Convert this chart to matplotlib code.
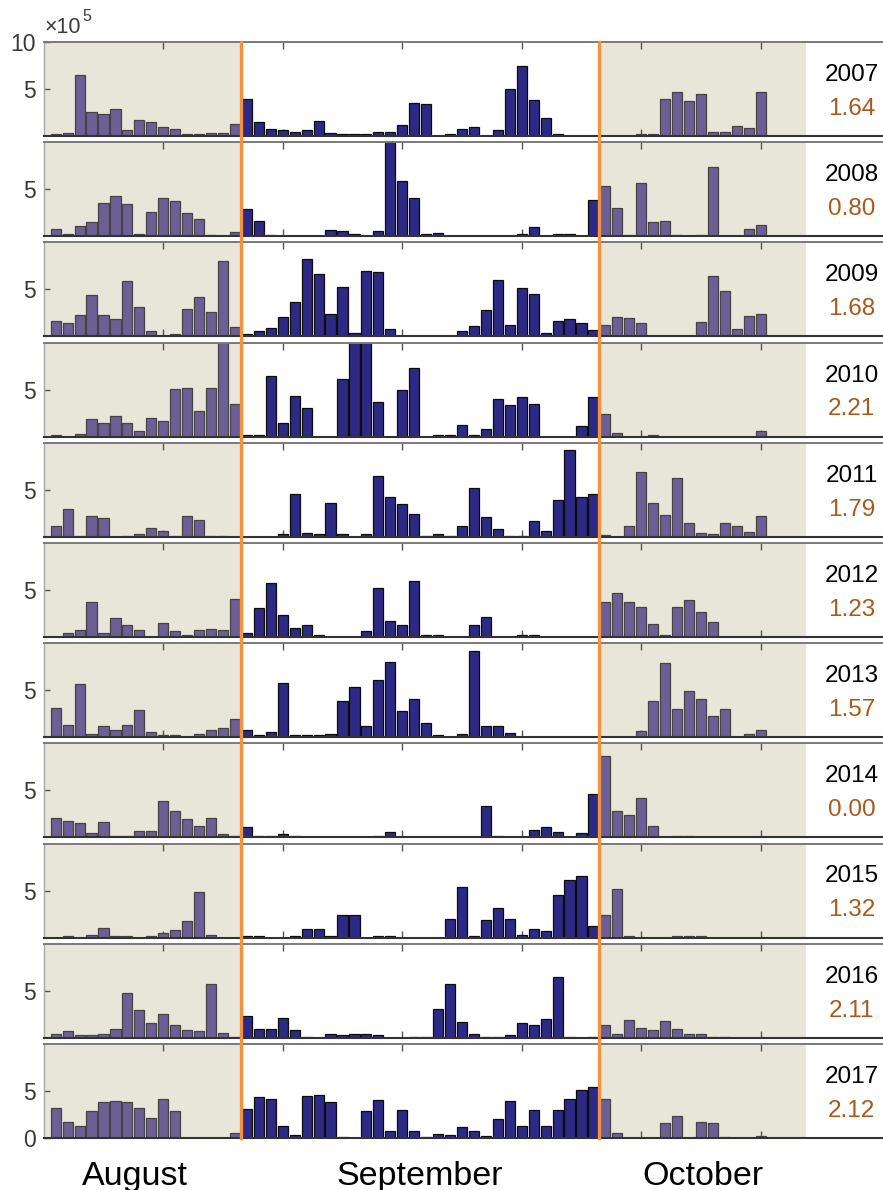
import matplotlib
matplotlib.use('Agg')
import matplotlib.pyplot as plt
from matplotlib.lines import Line2D
from matplotlib.transforms import blended_transform_factory as btf
import numpy as np

plt.rcParams['font.family'] = ['Liberation Sans', 'DejaVu Sans']

# ---------------- data (units of 1e5) ----------------
years = ['2007', '2008', '2009', '2010', '2011', '2012', '2013', '2014', '2015', '2016', '2017']
year_values = ['1.64', '0.80', '1.68', '2.21', '1.79', '1.23', '1.57', '0.00', '1.32', '2.11', '2.12']
month_labels = ['August', 'September', 'October']
n_aug, n_sep, n_oct = 16, 30, 14   # Aug 16-31, Sep 1-30, Oct 1-14

v2007 = [0.18, 0.35, 6.47, 2.58, 2.30, 2.86, 0.64, 1.73, 1.48, 0.95, 0.78, 0.18, 0.18, 0.35, 0.35, 1.31,
         3.96, 1.48, 0.78, 0.60, 0.46, 0.60, 1.59, 0.35, 0.20, 0.20, 0.20, 0.46, 0.46, 1.17, 3.53, 3.39, 0, 0.20, 0.78, 0.92,
         0, 0.64, 4.95, 7.40, 3.85, 1.90, 0.18, 0, 0, 0,
         0, 0, 0, 0.25, 0.18, 3.96, 4.66, 3.71, 4.49, 0.46, 0.46, 1.06, 0.81, 4.66]
v2008 = [0.78, 0.25, 1.06, 1.52, 3.57, 4.28, 3.46, 0.25, 2.61, 4.10, 3.71, 2.47, 1.87, 0.18, 0, 0.42,
         2.90, 1.66, 0.18, 0, 0, 0, 0, 0.64, 0.53, 0.20, 0, 0.53, 11.0, 5.84, 4.10, 0.20, 0.35, 0, 0, 0,
         0, 0, 0, 0.20, 0.93, 0, 0.20, 0.20, 0, 3.83,
         5.36, 3.00, 0.18, 5.66, 1.50, 1.65, 0.18, 0, 0.18, 7.36, 0, 0, 0.76, 1.17]
v2009 = [1.66, 1.38, 2.23, 4.38, 2.23, 1.84, 5.87, 3.18, 0.57, 0, 0.25, 2.93, 4.17, 2.61, 8.06, 0.95,
         0.25, 0.53, 0.92, 2.05, 3.64, 8.23, 6.68, 2.37, 5.30, 0.39, 6.96, 6.82, 0.81, 0.05, 0.05, 0.05, 0.05, 0, 0.53, 1.13,
         2.79, 6.00, 1.24, 5.12, 4.56, 0.39, 1.66, 1.84, 1.38, 0.71,
         1.24, 2.05, 1.91, 1.38, 0, 0, 0, 0, 1.52, 6.40, 4.84, 0.78, 2.19, 2.37]
v2010 = [0.18, 0, 0.32, 1.84, 1.41, 2.23, 1.41, 0.60, 1.98, 1.66, 5.02, 5.12, 2.69, 5.12, 10.5, 3.50,
         0.18, 0.18, 6.47, 1.41, 4.35, 3.04, 0, 0, 6.15, 10.5, 10.5, 3.64, 0, 4.91, 7.28, 0, 0.18, 0.18, 1.27, 0.18,
         0.85, 4.03, 3.36, 4.17, 3.50, 0, 0, 0, 1.10, 4.17,
         2.40, 0.42, 0, 0, 0.18, 0, 0, 0, 0, 0, 0, 0, 0, 0.60]
v2011 = [1.20, 2.95, 0.07, 2.20, 1.95, 0, 0.07, 0.25, 0.96, 0.64, 0.07, 2.20, 1.78, 0.07, 0.07, 0,
         0, 0, 0, 0.25, 4.58, 0.39, 0.25, 3.59, 0.25, 0, 0.25, 6.50, 4.26, 3.45, 2.45, 0.07, 0.25, 0.07, 1.10, 5.15,
         2.06, 0.78, 0.07, 0.07, 1.67, 0.64, 3.87, 9.20, 4.26, 4.58,
         0.14, 0, 1.20, 6.93, 3.59, 2.34, 6.29, 1.46, 0.39, 0.25, 1.46, 1.10, 0.53, 2.20]
v2012 = [0, 0.41, 0.73, 3.68, 0.41, 1.97, 1.26, 0.73, 0, 1.44, 0.59, 0.23, 0.73, 0.84, 0.73, 4.07,
         0.45, 3.11, 5.74, 2.37, 0.98, 1.23, 0.16, 0, 0, 0, 0.59, 5.17, 1.69, 1.23, 5.92, 0.16, 0.16, 0, 0, 1.26,
         2.08, 0, 0, 0.16, 0.16, 0, 0, 0, 0, 0,
         3.68, 4.64, 3.68, 3.15, 1.40, 0.16, 3.18, 3.89, 2.65, 1.55, 0, 0, 0, 0]
v2013 = [3.14, 1.30, 5.70, 0.34, 1.16, 0.77, 1.30, 2.86, 0.59, 0.20, 0.20, 0, 0.34, 0.73, 1.00, 1.90,
         0.77, 0.23, 0.59, 5.77, 0.23, 0.23, 0.23, 0.38, 3.89, 5.35, 1.16, 6.10, 8.02, 2.76, 4.07, 1.55, 0.23, 0, 0.34, 9.15,
         1.16, 1.16, 0.45, 0, 0, 0, 0, 0, 0, 0,
         0, 0, 0, 0.62, 3.85, 7.94, 2.97, 4.96, 4.07, 2.30, 3.00, 0, 0.34, 0.77]
v2014 = [2.05, 1.73, 1.51, 0.52, 1.66, 0.20, 0.20, 0.63, 0.63, 3.90, 2.76, 2.01, 1.16, 2.05, 0.34, 0.20,
         1.09, 0.20, 0.20, 0.34, 0.20, 0, 0, 0, 0, 0, 0, 0.20, 0.55, 0, 0, 0, 0, 0, 0, 0,
         3.29, 0.20, 0, 0, 0.77, 1.09, 0.55, 0, 0.52, 4.57,
         8.65, 2.86, 2.33, 4.22, 1.16, 0, 0.20, 0.20, 0, 0, 0, 0, 0, 0]
v2015 = [0, 0.14, 0, 0.32, 1.07, 0.14, 0.14, 0, 0.14, 0.50, 0.78, 1.78, 4.83, 0.32, 0, 0,
         0.14, 0.18, 0, 0, 0.18, 0.89, 0.89, 0.20, 2.42, 2.42, 0, 0.18, 0.18, 0, 0, 0, 0, 2.02, 5.36, 0.18,
         1.88, 3.13, 2.02, 0.32, 0.89, 0.75, 4.51, 6.18, 6.54, 1.21,
         2.45, 5.22, 0.14, 0, 0, 0, 0.14, 0.14, 0.14, 0, 0, 0, 0, 0]
v2016 = [0.39, 0.68, 0.25, 0.25, 0.39, 0.92, 4.76, 2.91, 1.53, 2.49, 1.39, 0.82, 0.68, 5.68, 0.53, 0.10,
         2.34, 0.92, 0.92, 2.06, 0.82, 0.10, 0, 0.39, 0.28, 0.39, 0.39, 0.28, 0, 0, 0.10, 0.10, 3.05, 5.68, 1.63, 0.39,
         0.10, 0.10, 0.28, 1.53, 1.39, 1.99, 6.43, 0.10, 0, 0.10,
         1.39, 0.39, 1.92, 1.07, 0.82, 1.78, 0.92, 0.39, 0.39, 0.10, 0.10, 0, 0, 0]
v2017 = [3.24, 1.69, 1.27, 2.82, 3.80, 3.98, 3.80, 3.24, 2.15, 4.19, 2.85, 0.03, 0.03, 0.03, 0.03, 0.56,
         3.10, 4.33, 4.19, 1.27, 0.32, 4.47, 4.61, 3.80, 0.07, 0, 2.82, 4.05, 0.70, 2.96, 0.70, 0.07, 0.46, 0.35, 1.16, 0.70,
         0.21, 1.97, 3.94, 1.27, 2.96, 1.27, 2.96, 4.19, 5.07, 5.46,
         4.19, 0.53, 0, 0, 0, 1.58, 2.29, 0, 1.73, 1.58, 0.07, 0, 0, 0.21]

series = [v2007, v2008, v2009, v2010, v2011, v2012, v2013, v2014, v2015, v2016, v2017]

# ---------------- style ----------------
shade = '#e8e5d9'
side_face, side_edge = '#6b5f96', '#444444'
sep_face, sep_edge = '#2e2985', '#0d0d0d'
orange = '#f5923e'
brown = '#a85a1c'
grey_txt = '#3a3a3a'

W, H = 883, 1190
fig = plt.figure(figsize=(W / 100, H / 100), dpi=100)

x0_px, px_day, left_px = 55.7, 11.95, 44.3
xlim = ((left_px - x0_px) / px_day, (W - x0_px) / px_day)
days = np.arange(n_aug + n_sep + n_oct)
sep_start = n_aug - 0.5
oct_start = n_aug + n_sep - 0.5
shade_end = 62.8

faces = [side_face] * n_aug + [sep_face] * n_sep + [side_face] * n_oct
edges = [side_edge] * n_aug + [sep_edge] * n_sep + [side_edge] * n_oct

axes = []
n = len(years)
for i, (yr, val, vals) in enumerate(zip(years, year_values, series)):
    bottom_px = 136 + 100.2 * i
    ax = fig.add_axes([left_px / W, 1 - bottom_px / H, 1 - left_px / W, 94 / H])
    axes.append(ax)
    ax.set_xlim(*xlim)
    ax.set_ylim(0, 10)
    ax.axvspan(xlim[0], sep_start, color=shade, zorder=0, lw=0)
    ax.axvspan(oct_start, shade_end, color=shade, zorder=0, lw=0)
    ax.bar(days, vals, width=0.85, color=faces, edgecolor=edges, linewidth=0.9, zorder=2)

    ax.spines['right'].set_visible(False)
    ax.spines['top'].set_color('#7a7a7a')
    ax.spines['top'].set_linewidth(1.4)
    ax.spines['bottom'].set_color('#333333')
    ax.spines['bottom'].set_linewidth(1.5)
    ax.spines['left'].set_color('#a8a8a8')
    ax.spines['left'].set_linewidth(1.0)
    for s in ax.spines.values():
        s.set_zorder(4)

    ax.set_xticks([9, 19, 29, 39, 49, 59])
    ax.tick_params(axis='x', direction='in', top=True, bottom=True, length=5, width=1,
                   color='#555555', labelbottom=False)
    if i == 0:
        yt = [5, 10]
    elif i == n - 1:
        yt = [0, 5]
    else:
        yt = [5]
    ax.set_yticks(yt)
    ax.set_yticklabels([str(t) for t in yt])
    ax.tick_params(axis='y', direction='in', left=True, length=4, width=1, color='#555555',
                   labelsize=16.5, labelcolor=grey_txt, pad=6)

    ax.text(66.6, 6.5, yr, ha='center', va='center', fontsize=17.5, color='black')
    ax.text(66.6, 2.9, val, ha='center', va='center', fontsize=17.5, color=brown)

# orange month boundaries running through all panels
top_y = 1 - 42 / H
bot_y = 1 - (136 + 100.2 * (n - 1)) / H
tr = btf(axes[0].transData, fig.transFigure)
for xb in (sep_start, oct_start):
    fig.add_artist(Line2D([xb, xb], [bot_y, top_y], transform=tr, color=orange, lw=2.4, zorder=10))

# month labels
label_x = [6.6, 30.5, 54.2]
for lab, lx in zip(month_labels, label_x):
    fig.text(lx, 1 - 1185 / H, lab, transform=tr, ha='center', va='baseline', fontsize=24.5, color='black')

# exponent label
fig.text(45 / W, 1 - 33 / H, '\u00d710', ha='left', va='baseline', fontsize=15.5, color=grey_txt)
fig.text(82 / W, 1 - 21 / H, '5', ha='left', va='baseline', fontsize=11.5, color=grey_txt)

fig.savefig('out.png', dpi=100, facecolor='white')
